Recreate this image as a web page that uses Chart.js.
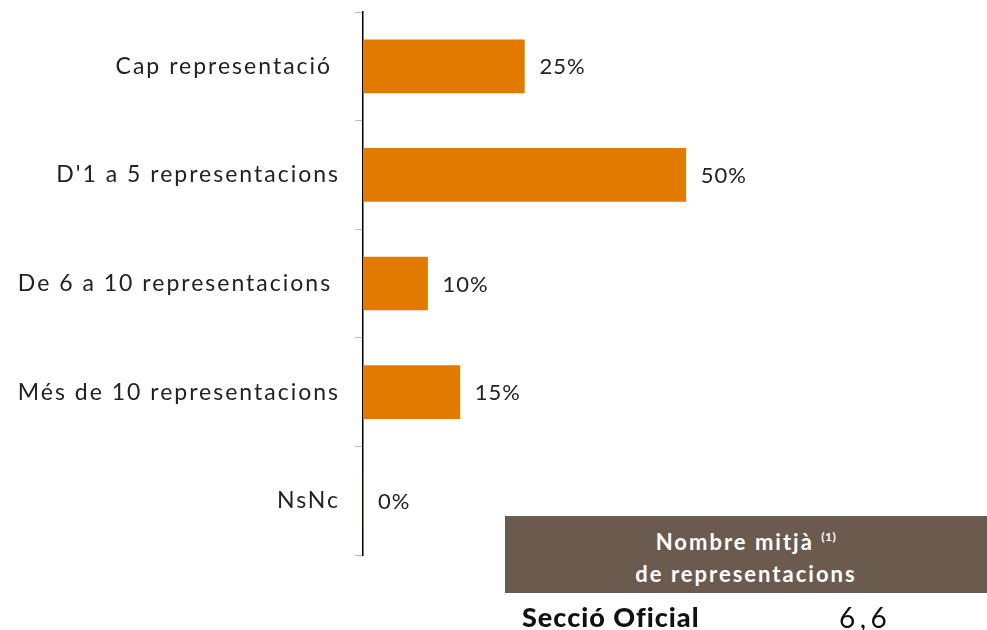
<!DOCTYPE html>
<html>
<head>
<meta charset="utf-8">
<script src="https://cdn.jsdelivr.net/npm/chart.js@4/dist/chart.umd.min.js"></script>
<style>
  html, body { margin:0; padding:0; background:#fff; }
  #wrap { position:relative; width:987px; height:630px; }
  canvas { position:absolute; left:0; top:0; }
  .box { position:absolute; left:505px; top:516px; width:482px; height:77px; background:#6B5B4E;
         color:#fff; font-family:Lato, sans-serif; font-weight:bold; font-size:22px; text-align:center;
         line-height:28px; box-sizing:border-box; padding-top:12px; letter-spacing:2px; }
  .box sup { font-size:12px; vertical-align:0; position:relative; top:-9px; letter-spacing:0.5px; }
  .row { position:absolute; top:600px; font-family:Lato, sans-serif; font-size:27px; line-height:normal; color:#111; }
</style>
</head>
<body>
<div id="wrap">
  <canvas id="c" width="987" height="630"></canvas>
  <div class="box">Nombre mitjà <sup>(1)</sup><br>de representacions</div>
  <div class="row" style="left:522px;font-weight:900;letter-spacing:1px;">Secció Oficial</div>
  <div class="row" style="left:839px;letter-spacing:4.5px;font-size:28px;">6,6</div>
</div>
<script>
const categories = ["Cap representació ", "D'1 a 5 representacions", "De 6 a 10 representacions ", "Més de 10 representacions", "NsNc"];
const values = [25, 50, 10, 15, 0];
const valueLabels = ["25%", "50%", "10%", "15%", "0%"];

const FONT = "Lato, sans-serif";

const spacingPlugin = {
  id: 'spacing',
  beforeDraw(chart) { chart.ctx.letterSpacing = '2px'; }
};

const valueLabelPlugin = {
  id: 'valueLabels',
  afterDatasetsDraw(chart) {
    const ctx = chart.ctx;
    const meta = chart.getDatasetMeta(0);
    ctx.save();
    ctx.letterSpacing = '1px';
    ctx.font = "22px " + FONT;
    ctx.fillStyle = "#222";
    ctx.textAlign = "left";
    ctx.textBaseline = "middle";
    meta.data.forEach((bar, i) => {
      ctx.fillText(valueLabels[i], bar.x + 15, bar.y + 1);
    });
    ctx.restore();
  }
};

new Chart(document.getElementById('c'), {
  type: 'bar',
  data: {
    labels: categories,
    datasets: [{
      data: values,
      backgroundColor: '#E07B00',
      borderWidth: 0,
      barThickness: 53
    }]
  },
  options: {
    indexAxis: 'y',
    responsive: false,
    animation: false,
    layout: { padding: { left: 0, right: 43, top: 12, bottom: 75 } },
    plugins: { legend: { display: false }, tooltip: { enabled: false } },
    scales: {
      x: { display: false, min: 0, max: 90 },
      y: {
        afterFit(scale) { scale.width = 363; scale.paddingTop = 0; scale.paddingBottom = 0; },
        grid: { drawOnChartArea: false, tickLength: 8, color: '#bbb', lineWidth: 1 },
        border: { color: '#000', width: 1.5 },
        ticks: { color: '#222', font: { family: FONT, size: 23 }, padding: 15 }
      }
    }
  },
  plugins: [spacingPlugin, valueLabelPlugin]
});
</script>
</body>
</html>
